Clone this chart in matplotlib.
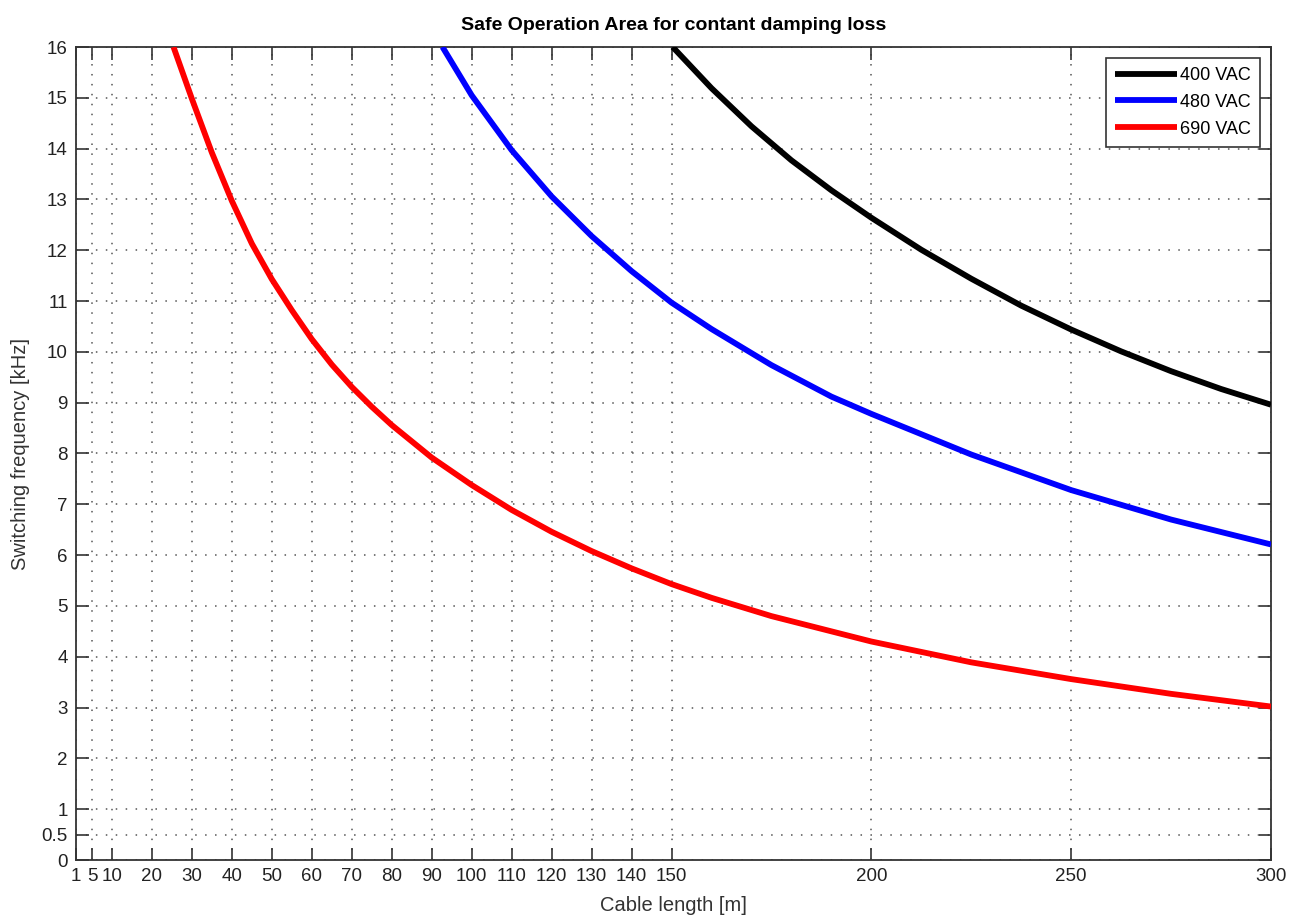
import matplotlib
matplotlib.use("Agg")
import matplotlib.pyplot as plt

# ---- data ----
len_400 = [150.3, 160, 170, 180, 190, 200, 212.5, 225, 237.5, 250, 262.5, 275, 287.5, 300]
f_400 = [16.0, 15.19, 14.44, 13.77, 13.18, 12.64, 12.01, 11.44, 10.91, 10.44, 10.01, 9.62, 9.27, 8.96]

len_480 = [92.7, 100, 110, 120, 130, 140, 150, 160, 175, 190, 200, 225, 250, 275, 300]
f_480 = [16.0, 15.05, 13.97, 13.06, 12.28, 11.59, 10.97, 10.45, 9.74, 9.12, 8.78, 7.98, 7.28, 6.70, 6.21]

len_690 = [25.4, 30, 35, 40, 45, 50, 55, 60, 65, 70, 75, 80, 90, 100, 110, 120, 130,
           140, 150, 160, 175, 200, 225, 250, 275, 300]
f_690 = [16.0, 14.98, 13.92, 12.97, 12.13, 11.43, 10.82, 10.25, 9.75, 9.31, 8.92, 8.56,
         7.92, 7.38, 6.89, 6.46, 6.08, 5.74, 5.43, 5.16, 4.80, 4.30, 3.89, 3.56, 3.27, 3.02]

series_labels = ["400 VAC", "480 VAC", "690 VAC"]
series_colors = ["black", "blue", "red"]

x_ticks = [1, 5, 10, 20, 30, 40, 50, 60, 70, 80, 90, 100, 110, 120, 130, 140, 150, 200, 250, 300]
y_ticks = [0, 0.5, 1, 2, 3, 4, 5, 6, 7, 8, 9, 10, 11, 12, 13, 14, 15, 16]
y_tick_labels = ["0", "0.5", "1", "2", "3", "4", "5", "6", "7", "8", "9", "10",
                 "11", "12", "13", "14", "15", "16"]

title = "Safe Operation Area for contant damping loss"
xlabel = "Cable length [m]"
ylabel = "Switching frequency [kHz]"

plt.rcParams['font.family'] = ['Liberation Sans', 'DejaVu Sans']

fig = plt.figure(figsize=(13.01, 9.22), dpi=100)
ax = fig.add_axes([76 / 1301, 1 - 860 / 922, (1271 - 76) / 1301, (860 - 47) / 922])

for xs, ys, lab, col in zip([len_400, len_480, len_690], [f_400, f_480, f_690],
                            series_labels, series_colors):
    ax.plot(xs, ys, color=col, lw=4.2, label=lab, solid_capstyle='butt',
            solid_joinstyle='round', zorder=3)

ax.set_xlim(1, 300)
ax.set_ylim(0, 16)
ax.set_xticks(x_ticks)
ax.set_xticklabels([str(v) for v in x_ticks])
ax.set_yticks(y_ticks)
ax.set_yticklabels(y_tick_labels)

ax.grid(True, color='#555555', linestyle=(0, (1, 5.5)), linewidth=1.1)
ax.tick_params(direction='in', length=9, width=1.2, top=True, right=True,
               labelsize=13.5, labelcolor='#222222', color='#333333', pad=6)
for sp in ax.spines.values():
    sp.set_linewidth(1.3)
    sp.set_color('#333333')

ax.set_title(title, fontsize=14, fontweight='bold', pad=12)
ax.set_xlabel(xlabel, fontsize=14.5, color='#333333', labelpad=8)
ax.set_ylabel(ylabel, fontsize=14.5, color='#333333', labelpad=8)

leg = ax.legend(loc='upper right', fontsize=13, handlelength=3.4, handletextpad=0.2,
                borderaxespad=0.6, labelspacing=0.55, fancybox=False, framealpha=1,
                borderpad=0.5)
leg.get_frame().set_edgecolor('#333333')
leg.get_frame().set_linewidth(1.2)

fig.savefig("out.png", dpi=100)
